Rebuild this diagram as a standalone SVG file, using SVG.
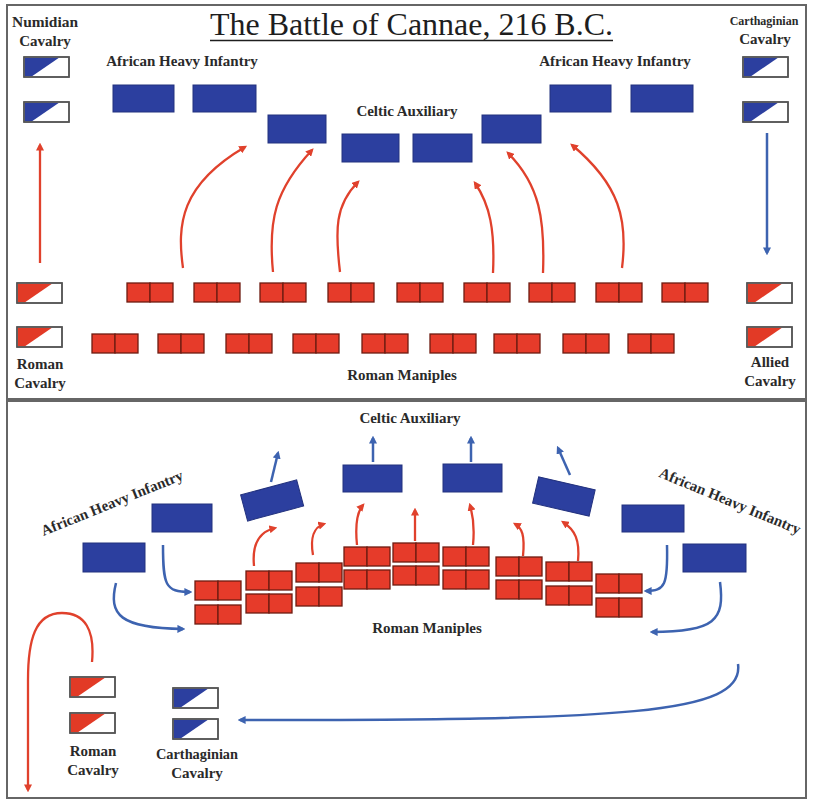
<svg xmlns="http://www.w3.org/2000/svg" xmlns:xlink="http://www.w3.org/1999/xlink" width="814" height="801" viewBox="0 0 814 801">
<style>
.lbl{font-family:"Liberation Serif","Times New Roman",serif;font-weight:bold;font-size:15px;fill:#2a2a2a;text-anchor:middle}
.title{font-family:"Liberation Serif","Times New Roman",serif;font-size:31px;fill:#1e1e1e;text-anchor:middle}
.blk{fill:#2c3f9f;stroke:#23327e;stroke-width:1}
.sq{fill:#e63b2a;stroke:#6e1c12;stroke-width:1.3}
.cav{fill:#fff;stroke:#555;stroke-width:1.5}
.red{fill:#e23a26}
.blu{fill:#2c3f9f}
.ra{fill:none;stroke:#e0412c;stroke-width:2.3;marker-end:url(#mr)}
.ba{fill:none;stroke:#3d63b0;stroke-width:2.5;marker-end:url(#mb)}
.frame{fill:#fff;stroke:#666;stroke-width:2}
</style>
<defs>
<marker id="mr" viewBox="0 0 10 10" refX="7" refY="5" markerWidth="8" markerHeight="8" markerUnits="userSpaceOnUse" orient="auto"><path d="M0,0 L10,5 L0,10 Z" fill="#e0412c"/></marker>
<marker id="mb" viewBox="0 0 10 10" refX="7" refY="5" markerWidth="8" markerHeight="8" markerUnits="userSpaceOnUse" orient="auto"><path d="M0,0 L10,5 L0,10 Z" fill="#3d63b0"/></marker>
<g id="pair"><rect class="sq" x="0" y="0" width="23" height="19"/><rect class="sq" x="23" y="0" width="23" height="19"/></g>
<g id="cavR"><rect class="cav" x="0" y="0" width="45" height="20"/><polygon class="red" points="0.8,0.8 35,0.8 8,19.2 0.8,19.2"/><rect fill="none" stroke="#555" stroke-width="1.5" x="0" y="0" width="45" height="20"/></g>
<g id="cavB"><rect class="cav" x="0" y="0" width="45" height="20"/><polygon class="blu" points="0.8,0.8 35,0.8 8,19.2 0.8,19.2"/><rect fill="none" stroke="#555" stroke-width="1.5" x="0" y="0" width="45" height="20"/></g>
</defs>
<rect width="814" height="801" fill="#fff"/>
<rect class="frame" x="7" y="5" width="799" height="394"/>
<rect class="frame" x="7" y="401" width="799" height="397"/>

<g id="title">
<text class="title" x="411.5" y="35" textLength="403" lengthAdjust="spacingAndGlyphs">The Battle of Cannae, 216 B.C.</text>
<line x1="210" y1="40.5" x2="613" y2="40.5" stroke="#1e1e1e" stroke-width="1.6"/>
</g>

<!-- Top panel -->
<g id="numidian-cavalry">
<text class="lbl" x="45" y="27" textLength="66" lengthAdjust="spacingAndGlyphs">Numidian</text>
<text class="lbl" x="45" y="46">Cavalry</text>
<use xlink:href="#cavB" x="24" y="57"/>
<use xlink:href="#cavB" x="24" y="102"/>
</g>
<g id="carthaginian-cavalry-top">
<text class="lbl" x="764" y="25" style="font-size:12px">Carthaginian</text>
<text class="lbl" x="765" y="44">Cavalry</text>
<use xlink:href="#cavB" x="743" y="57"/>
<use xlink:href="#cavB" x="743" y="102"/>
</g>
<g id="african-left-top">
<text class="lbl" x="182" y="66">African Heavy Infantry</text>
<rect class="blk" x="113" y="85" width="61" height="27"/>
<rect class="blk" x="193" y="85" width="63" height="27"/>
</g>
<g id="african-right-top">
<text class="lbl" x="615" y="66">African Heavy Infantry</text>
<rect class="blk" x="550" y="85" width="61" height="27"/>
<rect class="blk" x="631" y="85" width="62" height="27"/>
</g>
<g id="celtic-top">
<text class="lbl" x="407" y="116">Celtic Auxiliary</text>
<rect class="blk" x="268" y="115" width="58" height="28"/>
<rect class="blk" x="342" y="134" width="57" height="28"/>
<rect class="blk" x="413" y="134" width="59" height="28"/>
<rect class="blk" x="482" y="115" width="59" height="28"/>
</g>
<g id="roman-cavalry-top">
<use xlink:href="#cavR" x="17" y="283"/>
<use xlink:href="#cavR" x="17" y="327"/>
<text class="lbl" x="40" y="369">Roman</text>
<text class="lbl" x="40" y="388">Cavalry</text>
</g>
<g id="allied-cavalry">
<use xlink:href="#cavR" x="747" y="283"/>
<use xlink:href="#cavR" x="747" y="327"/>
<text class="lbl" x="770" y="367">Allied</text>
<text class="lbl" x="770" y="386">Cavalry</text>
</g>
<g id="roman-maniples-top">
<use xlink:href="#pair" x="127" y="283"/>
<use xlink:href="#pair" x="194" y="283"/>
<use xlink:href="#pair" x="260" y="283"/>
<use xlink:href="#pair" x="328" y="283"/>
<use xlink:href="#pair" x="397" y="283"/>
<use xlink:href="#pair" x="464" y="283"/>
<use xlink:href="#pair" x="529" y="283"/>
<use xlink:href="#pair" x="596" y="283"/>
<use xlink:href="#pair" x="662" y="283"/>
<use xlink:href="#pair" x="92" y="334"/>
<use xlink:href="#pair" x="158" y="334"/>
<use xlink:href="#pair" x="226" y="334"/>
<use xlink:href="#pair" x="293" y="334"/>
<use xlink:href="#pair" x="362" y="334"/>
<use xlink:href="#pair" x="430" y="334"/>
<use xlink:href="#pair" x="494" y="334"/>
<use xlink:href="#pair" x="563" y="334"/>
<use xlink:href="#pair" x="628" y="334"/>
<text class="lbl" x="402" y="380">Roman Maniples</text>
</g>

<!-- Bottom panel -->
<g id="celtic-bottom">
<text class="lbl" x="410" y="423">Celtic Auxiliary</text>
<rect class="blk" x="343" y="465" width="59" height="27"/>
<rect class="blk" x="443" y="464" width="59" height="28"/>
<rect class="blk" x="243" y="487" width="58" height="27" transform="rotate(-15 272 500)"/>
<rect class="blk" x="535" y="483" width="58" height="27" transform="rotate(13 564 496)"/>
</g>
<g id="african-left-bottom">
<text class="lbl" x="112" y="508" transform="rotate(-22 112 503)">African Heavy Infantry</text>
<rect class="blk" x="152" y="504" width="60" height="28"/>
<rect class="blk" x="83" y="543" width="62" height="29"/>
</g>
<g id="african-right-bottom">
<text class="lbl" x="730" y="506" transform="rotate(22.5 730 501)">African Heavy Infantry</text>
<rect class="blk" x="622" y="505" width="62" height="27"/>
<rect class="blk" x="683" y="544" width="63" height="28"/>
</g>
<g id="roman-maniples-bottom">
<use xlink:href="#pair" x="195" y="581"/><use xlink:href="#pair" x="195" y="605"/>
<use xlink:href="#pair" x="246" y="571"/><use xlink:href="#pair" x="246" y="594"/>
<use xlink:href="#pair" x="296" y="563"/><use xlink:href="#pair" x="296" y="587"/>
<use xlink:href="#pair" x="344" y="547"/><use xlink:href="#pair" x="344" y="570"/>
<use xlink:href="#pair" x="393" y="543"/><use xlink:href="#pair" x="393" y="566"/>
<use xlink:href="#pair" x="443" y="547"/><use xlink:href="#pair" x="443" y="570"/>
<use xlink:href="#pair" x="496" y="557"/><use xlink:href="#pair" x="496" y="580"/>
<use xlink:href="#pair" x="546" y="562"/><use xlink:href="#pair" x="546" y="586"/>
<use xlink:href="#pair" x="596" y="574"/><use xlink:href="#pair" x="596" y="598"/>
<text class="lbl" x="427" y="633">Roman Maniples</text>
</g>
<g id="roman-cavalry-bottom">
<use xlink:href="#cavR" x="70" y="677"/>
<use xlink:href="#cavR" x="70" y="713"/>
<text class="lbl" x="93" y="756">Roman</text>
<text class="lbl" x="93" y="775">Cavalry</text>
</g>
<g id="carthaginian-cavalry-bottom">
<use xlink:href="#cavB" x="173" y="688"/>
<use xlink:href="#cavB" x="173" y="719"/>
<text class="lbl" x="197" y="759" textLength="82" lengthAdjust="spacingAndGlyphs">Carthaginian</text>
<text class="lbl" x="197" y="778">Cavalry</text>
</g>

<g id="connectors">
<!-- top panel -->
<path class="ra" d="M40,263 L40,145"/>
<path class="ba" d="M767,133 L767,253"/>
<path class="ra" d="M183,268 C177,225 180,185 245,147"/>
<path class="ra" d="M273,272 C268,220 275,190 312,150"/>
<path class="ra" d="M340,272 C335,230 335,205 358,182"/>
<path class="ra" d="M493,273 C495,230 490,205 475,183"/>
<path class="ra" d="M543,273 C545,220 540,185 508,153"/>
<path class="ra" d="M622,268 C628,220 620,185 572,145"/>
<!-- bottom panel -->
<path class="ba" d="M373,462 L373,438"/>
<path class="ba" d="M471,462 L471,438"/>
<path class="ba" d="M271,482 L278,453"/>
<path class="ba" d="M570,475 L558,448"/>
<path class="ra" d="M254,566 C252,545 258,532 275,528"/>
<path class="ra" d="M313,555 C310,538 314,527 324,524"/>
<path class="ra" d="M357,545 C355,525 357,512 363,505"/>
<path class="ra" d="M415,541 L415,510"/>
<path class="ra" d="M473,545 C475,525 472,512 470,505"/>
<path class="ra" d="M523,556 C525,535 522,528 515,524"/>
<path class="ra" d="M578,561 C580,540 575,530 563,522"/>
<path class="ba" d="M163,545 C163,585 165,592 190,592"/>
<path class="ba" d="M116,583 C108,615 120,628 183,629"/>
<path class="ba" d="M667,545 C668,585 665,591 646,591"/>
<path class="ba" d="M720,582 C725,620 715,632 652,632"/>
<path class="ba" d="M738,664 C745,715 620,720 240,720"/>
<path class="ra" d="M92,662 C95,630 85,613 62,613 C35,613 28,640 28,680 L28,790"/>
</g>
</svg>
